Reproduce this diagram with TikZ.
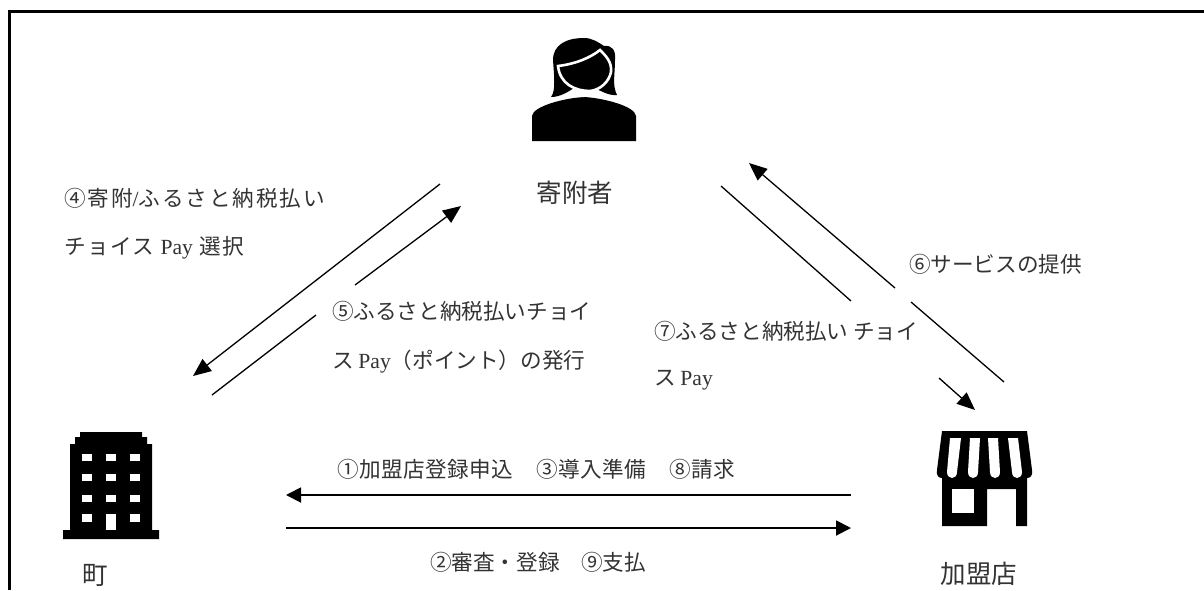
\documentclass[tikz,border=0pt]{standalone}
\usepackage{fontspec}
\setmainfont{Noto Sans CJK JP}
\newfontfamily\lat{Liberation Serif}
\usetikzlibrary{arrows.meta}
\tikzset{
  flow/.style={draw=black,line width=1.3pt},
  flowbold/.style={draw=black,line width=1.9pt,-{Triangle[length=15pt,width=15pt]}},
  flowtip/.style={flow,-{Triangle[length=18pt,width=15pt]}},
  lab/.style={anchor=west,inner sep=0pt,outer sep=0pt,font=\fontsize{21.6}{21.6}\selectfont,text=black!80},
  big/.style={anchor=center,inner sep=0pt,outer sep=0pt,font=\fontsize{25.5}{25.5}\selectfont,text=black!80},
  frameline/.style={draw=black,line width=3pt},
  ink/.style={fill=black,draw=none},
  hole/.style={fill=white,draw=none}
}
\begin{document}
\begin{tikzpicture}[x=1pt,y=-1pt]
\useasboundingbox (0,0) rectangle (1204,590);
\fill[white] (0,0) rectangle (1204,590);
\draw[frameline] (9.5,590) -- (9.5,11.5) -- (1204,11.5);
% woman
\fill[ink] (532,141) -- (532,116) .. controls (533,106) and (565,98) .. (584,97) .. controls (603,98) and (635,106) .. (636,116) -- (636,141) -- cycle;
\fill[ink] (551,97) .. controls (556,91) and (554,75) .. (553,60) .. controls (553,45) and (566,38) .. (584,38) .. controls (592,38) and (598,42) .. (604,46) .. controls (612,45) and (616,50) .. (615,60) .. controls (615,75) and (612,85) .. (617,95) .. controls (608,96) and (600,90) .. (594,88) -- (574,88) .. controls (568,92) and (560,97) .. (551,97) -- cycle;
\draw[white,line width=2.6pt,fill=black] (558,66) .. controls (575,64) and (590,58) .. (600,50) .. controls (606,56) and (612,62) .. (611,72) .. controls (609,82) and (600,90) .. (590,91) .. controls (575,91) and (560,84) .. (558,66) -- cycle;
\fill[hole] (574,90) -- (596,90) -- (607,95) .. controls (598,96) and (590,97) .. (584,97) .. controls (578,97) and (570,98) .. (566,95) -- cycle;
% building
\fill[ink] (80,432) -- (142,432) -- (142,437) -- (147,437) -- (147,444) -- (152,444) -- (152,530) -- (159,530) -- (159,539) -- (63,539) -- (63,530) -- (70,530) -- (70,444) -- (75,444) -- (75,437) -- (80,437) -- cycle;
\foreach \xx in {82,106,130}{\foreach \yy in {454,474,495}{\fill[hole] (\xx,\yy) rectangle ++(10,7);}}
\fill[hole] (82,514) rectangle ++(10,8);
\fill[hole] (106,514) rectangle (116,530);
\fill[hole] (130,514) rectangle ++(10,8);
% shop
\fill[ink] (942,431) -- (1027,431) -- (1032,470) .. controls (1033,476) and (1030,478) .. (1027,478) -- (1027,526) -- (1016,526) -- (1016,489) -- (987,489) -- (987,526) -- (942,526) -- (942,478) .. controls (939,478) and (936,476) .. (937,470) -- cycle;
\fill[hole] (952,489) rectangle (974,513);
\foreach \xa/\xb/\xc/\xd in {950/961/947/957,970/980/968/978,988/998/990/1000,1008/1018/1012/1022}{
  \fill[hole] (\xa,438) -- (\xb,438) -- (\xd,472) .. controls (\xd,480) and (\xc,480) .. (\xc,472) -- cycle;
}
% big labels
\node[big] (donor) at (575,193) {寄附者};
\node[big] (town) at (95,575) {町};
\node[big] (store) at (979,574) {加盟店};
% labels
\node[lab] (l4a) at (64,198) {\addfontfeature{LetterSpace=9}④寄附{\lat /}ふるさと納税払い};
\node[lab] (l4b) at (64,248) {\addfontfeature{LetterSpace=7}チョイス {\lat Pay} 選択};
\node[lab] (l5a) at (332,311) {⑤ふるさと納税払いチョイ};
\node[lab] (l5b) at (332,362) {ス {\lat Pay}（ポイント）の発行};
\node[lab] (l6) at (909,264) {⑥サービスの提供};
\node[lab] (l7a) at (654,331) {⑦ふるさと納税払い チョイ};
\node[lab] (l7b) at (654,380) {ス {\lat Pay}};
\node[lab] (l1) at (337,469) {\addfontfeature{LetterSpace=2.5}①加盟店登録申込　③導入準備　⑧請求};
\node[lab] (l2) at (430,562) {②審査・登録　⑨支払};
% connectors
\coordinate (a4s) at (440,184); \coordinate (a4e) at (193,376);
\coordinate (a5s) at (212,395); \coordinate (a5m) at (316,315);
\coordinate (a5n) at (355,285); \coordinate (a5e) at (461,206);
\coordinate (a6s) at (1004,382); \coordinate (a6m) at (911,302);
\coordinate (a6n) at (895,288); \coordinate (a6e) at (749,163);
\coordinate (a7s) at (721,186); \coordinate (a7m) at (851,301);
\coordinate (a7n) at (939,378); \coordinate (a7e) at (975,410);
\coordinate (t1s) at (851,495); \coordinate (t1e) at (286,495);
\coordinate (t2s) at (286,528); \coordinate (t2e) at (851,528);
\draw[flowtip] (a4s) -- (a4e);
\draw[flow] (a5s) -- (a5m);
\draw[flowtip] (a5n) -- (a5e);
\draw[flow] (a6s) -- (a6m);
\draw[flowtip] (a6n) -- (a6e);
\draw[flow] (a7s) -- (a7m);
\draw[flowtip] (a7n) -- (a7e);
\draw[flowbold] (t1s) -- (t1e);
\draw[flowbold] (t2s) -- (t2e);
\end{tikzpicture}
\end{document}
